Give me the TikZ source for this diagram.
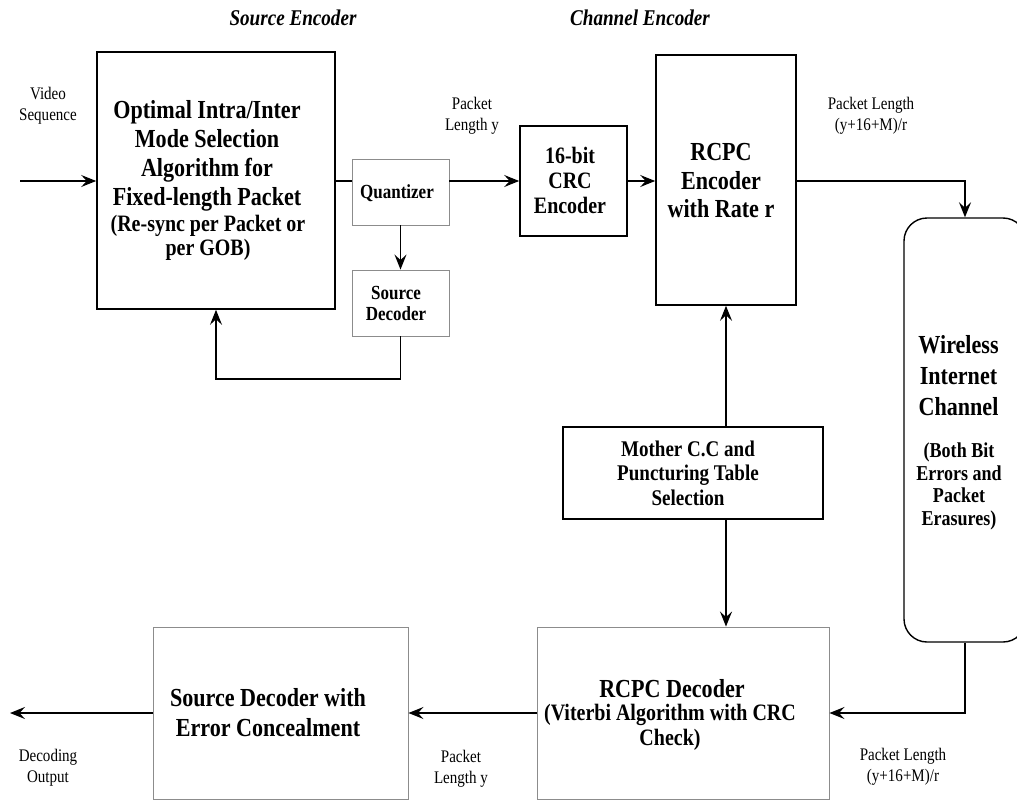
\documentclass[tikz,border=0pt]{standalone}
\usepackage{fontspec}
\setmainfont{Liberation Serif}[FakeStretch=0.85]
\usetikzlibrary{arrows.meta}
\tikzset{
  bbox/.style={draw=black, line width=1.6pt, inner sep=0pt, fill=none},
  gbox/.style={draw=black!45, line width=0.9pt, inner sep=0pt},
  chanbox/.style={draw=black, line width=1.4pt, rounded corners=23pt, inner sep=0pt},
  txt/.style={inner sep=0pt, align=center, font=\bfseries\fontsize{26}{29}\selectfont},
  lbl/.style={inner sep=0pt, align=center, font=\fontsize{17.7}{21}\selectfont},
  ttl/.style={inner sep=0pt, font=\bfseries\itshape\fontsize{22.5}{23}\selectfont},
  conn/.style={line width=1.3pt},
  arr/.style={line width=1.3pt, -{Stealth[length=15pt,width=12pt,inset=5.5pt]}}
}
\begin{document}
\begin{tikzpicture}[x=1pt,y=-1pt]
\clip (0,0) rectangle (1017,800);
\fill[white] (0,0) rectangle (1017,800);

% titles
\node[ttl] (tse) at (293,18) {Source Encoder};
\node[ttl] (tce) at (640,18) {Channel Encoder};

% boxes
\node[bbox, minimum width=238pt, minimum height=257pt] (main) at (216,180.5) {};
\node[gbox, minimum width=97pt, minimum height=66pt] (quant) at (400.5,192) {};
\node[gbox, minimum width=97pt, minimum height=66pt] (sdec) at (400.5,303) {};
\node[bbox, minimum width=107pt, minimum height=110pt] (crc) at (573.5,181) {};
\node[bbox, minimum width=140pt, minimum height=250pt] (rcpc) at (726,180) {};
\node[chanbox, minimum width=122pt, minimum height=424pt] (chan) at (965,430) {};
\node[bbox, minimum width=260pt, minimum height=92pt] (mother) at (693,473) {};
\node[gbox, minimum width=292pt, minimum height=172pt] (rdec) at (683,713) {};
\node[gbox, minimum width=255pt, minimum height=172pt] (sdecec) at (280.5,713) {};

% box texts
\node[txt, font=\bfseries\fontsize{26}{29}\selectfont] (mainA) at (207,155.5) {Optimal Intra/Inter\\Mode Selection\\Algorithm for\\Fixed-length Packet};
\node[txt, font=\bfseries\fontsize{23.5}{24}\selectfont] (mainB) at (208,238) {(Re-sync per Packet or\\per GOB)};
\node[txt, font=\bfseries\fontsize{20}{21}\selectfont] (quantT) at (397,193) {Quantizer};
\node[txt, font=\bfseries\fontsize{20}{21}\selectfont] (sdecT) at (396,303.5) {Source\\Decoder};
\node[txt, font=\bfseries\fontsize{23.5}{25}\selectfont] (crcT) at (570,180) {16-bit\\CRC\\Encoder};
\node[txt, font=\bfseries\fontsize{26}{28.5}\selectfont] (rcpcT) at (721,181) {RCPC\\Encoder\\with Rate r};
\node[txt, font=\bfseries\fontsize{26}{31}\selectfont] (chanA) at (958.5,376) {Wireless\\Internet\\Channel};
\node[txt, font=\bfseries\fontsize{21.2}{22.5}\selectfont] (chanB) at (959,486.5) {(Both Bit\\Errors and\\Packet\\Erasures)};
\node[txt, font=\bfseries\fontsize{22.4}{24.5}\selectfont] (motherT) at (688,473) {Mother C.C and\\Puncturing Table\\Selection};
\node[txt, font=\bfseries\fontsize{26}{29}\selectfont] (rdecA) at (672,689) {RCPC Decoder};
\node[txt, font=\bfseries\fontsize{23.5}{25}\selectfont] (rdecB) at (670,727.5) {(Viterbi Algorithm with CRC\\Check)};
\node[txt, font=\bfseries\fontsize{26}{30}\selectfont] (sdececT) at (268,713) {Source Decoder with\\Error Concealment};

% labels
\node[lbl] (lvid) at (48,106) {Video\\Sequence};
\node[lbl] (lply1) at (472,116) {Packet\\Length y};
\node[lbl] (lplr1) at (871,116) {Packet Length\\(y+16+M)/r};
\node[lbl] (ldec) at (48,768) {Decoding\\Output};
\node[lbl] (lply2) at (461,769) {Packet\\Length y};
\node[lbl] (lplr2) at (903,767) {Packet Length\\(y+16+M)/r};

% connectors
\coordinate (vin) at (20,181);
\coordinate (fb) at (216,379);
\coordinate (out) at (10,713);
\draw[arr] (vin) -- (vin -| main.west);
\draw[conn] (vin -| main.east) -- (vin -| quant.west);
\draw[arr] (vin -| quant.east) -- (vin -| crc.west);
\draw[arr] (vin -| crc.east) -- (vin -| rcpc.west);
\draw[arr] (quant.south) -- (sdec.north);
\draw[arr] (sdec.south) |- (fb) -- (main.south);
\draw[arr] (vin -| rcpc.east) -| (chan.north);
\draw[arr] (rcpc.south |- mother.north) -- (rcpc.south);
\draw[arr] (rcpc.south |- mother.south) -- (rcpc.south |- rdec.north);
\draw[arr] (chan.south) |- (rdec.east);
\draw[arr] (rdec.west) -- (sdecec.east);
\draw[arr] (sdecec.west) -- (out);
\end{tikzpicture}
\end{document}
